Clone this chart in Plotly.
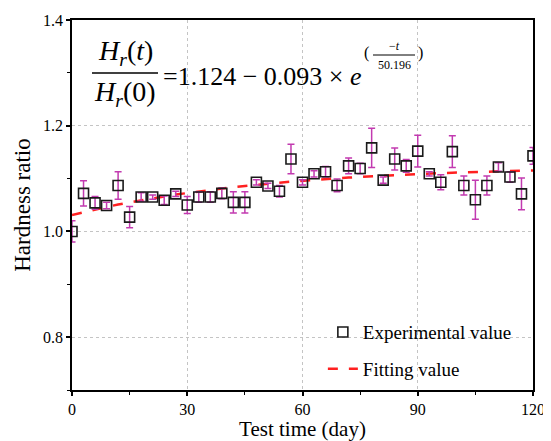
import plotly.graph_objects as go

# ---------------- data ----------------
test_time = [0, 3, 6, 9, 12, 15, 18, 21, 24, 27, 30, 33, 36, 39, 42, 45, 48, 51, 54, 57,
             60, 63, 66, 69, 72, 75, 78, 81, 84, 87, 90, 93, 96, 99, 102, 105, 108, 111, 114, 117, 120]
hardness_ratio = [1.000, 1.072, 1.054, 1.049, 1.087, 1.027, 1.065, 1.065, 1.059, 1.071,
                  1.050, 1.065, 1.065, 1.072, 1.055, 1.055, 1.093, 1.086, 1.076, 1.137,
                  1.093, 1.109, 1.113, 1.087, 1.124, 1.119, 1.158, 1.097, 1.137, 1.124,
                  1.152, 1.109, 1.093, 1.151, 1.087, 1.060, 1.087, 1.122, 1.103, 1.071, 1.143]
hardness_err = [0.020, 0.024, 0.012, 0.006, 0.026, 0.020, 0.008, 0.004, 0.008, 0.005,
                0.016, 0.010, 0.010, 0.010, 0.020, 0.020, 0.005, 0.005, 0.011, 0.028,
                0.005, 0.006, 0.010, 0.012, 0.015, 0.010, 0.037, 0.006, 0.021, 0.012,
                0.030, 0.004, 0.014, 0.030, 0.018, 0.037, 0.018, 0.008, 0.010, 0.030, 0.016]
fitting_value = [1.0310, 1.0364, 1.0415, 1.0463, 1.0508, 1.0550, 1.0590, 1.0628, 1.0663, 1.0697,
                 1.0728, 1.0758, 1.0786, 1.0812, 1.0837, 1.0861, 1.0883, 1.0903, 1.0923, 1.0941,
                 1.0959, 1.0975, 1.0990, 1.1005, 1.1018, 1.1031, 1.1043, 1.1055, 1.1066, 1.1076,
                 1.1085, 1.1094, 1.1103, 1.1111, 1.1118, 1.1125, 1.1132, 1.1138, 1.1144, 1.1150, 1.1155]

x_ticks = [0, 30, 60, 90, 120]
y_ticks = [0.8, 1.0, 1.2, 1.4]
y_tick_labels = ["0.8", "1.0", "1.2", "1.4"]

FONT = "'Liberation Serif', 'Times New Roman', 'DejaVu Serif', serif"
# The page body has an 8px margin, so the figure is drawn 8px right/down.
W, H = 543, 433
L, R, T, B = 64, 18, 12, 51
# screen-space plot area: x 72..533, y 20..390
SX0, SX1, SY0, SY1 = 72, 533, 20, 390


def px(x):
    return (x - SX0) / (SX1 - SX0)


def py(y):
    return (SY1 - y) / (SY1 - SY0)


fig = go.Figure()

fig.add_trace(go.Scatter(
    x=test_time, y=fitting_value, mode="lines", name="Fitting value",
    legendgroup="fit", legendrank=2,
    line=dict(color="#ff2020", width=2.5, dash="10px,11px"),
))

fig.add_trace(go.Scatter(
    x=test_time, y=hardness_ratio, mode="markers", name="Experimental value",
    legendgroup="exp", legendrank=1,
    marker=dict(symbol="square-open", size=10, color="#1a1a1a", line=dict(width=1.6, color="#1a1a1a")),
    error_y=dict(type="data", array=hardness_err, visible=True, color="#c23ab0", thickness=1.5, width=3.5),
))

axis_common = dict(
    showline=True, linecolor="black", linewidth=1.8, mirror=True,
    ticks="outside", ticklen=4, tickwidth=1.5, tickcolor="black",
    showgrid=True, gridcolor="#c4c4c4", griddash="dot", gridwidth=1,
    zeroline=False, automargin=False,
    tickfont=dict(family=FONT, size=16, color="black"),
)

fig.update_xaxes(
    range=[0, 120], tickvals=x_ticks,
    minor=dict(dtick=15, tick0=0, ticks="outside", ticklen=3, tickwidth=1.2, tickcolor="black", showgrid=False),
    title=dict(text="Test time (day)", font=dict(family=FONT, size=21, color="black"), standoff=0),
    **axis_common,
)
fig.update_yaxes(
    range=[0.7, 1.4], tickvals=y_ticks, ticktext=y_tick_labels,
    minor=dict(dtick=0.1, tick0=0.7, ticks="outside", ticklen=3, tickwidth=1.2, tickcolor="black", showgrid=False),
    title=dict(text="Hardness ratio", font=dict(family=FONT, size=23, color="black"), standoff=6),
    **axis_common,
)

# ---------------- equation ----------------
ann = []
eq_font = dict(family=FONT, size=26, color="black")
frac_font = dict(family=FONT, size=28, color="black")
small_font = dict(family=FONT, size=12, color="black")
ann.append(dict(x=px(125), y=py(53), text="<i>H</i><sub><i>r</i></sub>(<i>t</i>)", font=frac_font))
ann.append(dict(x=px(125), y=py(93), text="<i>H</i><sub><i>r</i></sub>(0)", font=frac_font))
ann.append(dict(x=px(161), y=py(76), xanchor="left", text="=1.124 − 0.093 × <i>e</i>", font=eq_font))
ann.append(dict(x=px(366), y=py(53), text="(", font=dict(family=FONT, size=16, color="black")))
ann.append(dict(x=px(394), y=py(46), text="−<i>t</i>", font=small_font))
ann.append(dict(x=px(394), y=py(65), text="50.196", font=small_font))
ann.append(dict(x=px(420), y=py(53), text=")", font=dict(family=FONT, size=16, color="black")))
for a in ann:
    a.update(xref="paper", yref="paper", showarrow=False)
    a.setdefault("xanchor", "center")
    a.setdefault("yanchor", "middle")

shapes = [
    dict(type="line", xref="paper", yref="paper", x0=px(92), x1=px(158), y0=py(73), y1=py(73),
         line=dict(color="black", width=1.5)),
    dict(type="line", xref="paper", yref="paper", x0=px(373), x1=px(415), y0=py(55), y1=py(55),
         line=dict(color="black", width=1)),
]

fig.update_layout(
    width=W, height=H,
    margin=dict(l=L, r=R, t=T, b=B),
    paper_bgcolor="white", plot_bgcolor="white",
    font=dict(family=FONT, color="black"),
    annotations=ann, shapes=shapes,
    legend=dict(
        x=0.965, y=0.005, xanchor="right", yanchor="bottom",
        bgcolor="rgba(0,0,0,0)", borderwidth=0,
        font=dict(family=FONT, size=19, color="black"),
        traceorder="grouped", tracegroupgap=9,
    ),
    showlegend=True,
)

fig.write_html("out.html")
